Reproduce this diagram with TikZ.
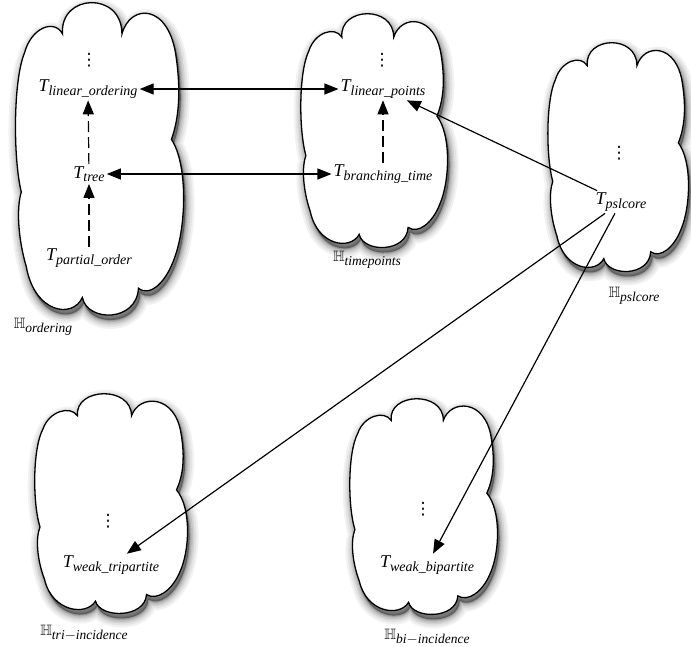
\documentclass[tikz,border=0pt]{standalone}
\usepackage{amssymb}
\usepackage{fontspec}
\setmainfont{Liberation Serif}
\newfontfamily\symbolfont{DejaVu Sans}
\usetikzlibrary{arrows.meta}

% outline of a cloud in the unit square (u to the right, v downwards):
% a tall bump on top between two shoulders, two bulges on each side,
% a low bump at the bottom
\newcommand\cloudoutline{%
  (0.27,0.10) .. controls (0.25,-0.03) and (0.63,-0.04) .. (0.63,0.10)
  .. controls (0.68,0.00) and (0.92,0.00) .. (0.96,0.18)
  .. controls (0.99,0.30) and (0.97,0.38) .. (0.93,0.44)
  .. controls (1.03,0.52) and (1.02,0.72) .. (0.95,0.82)
  .. controls (0.90,0.90) and (0.80,0.95) .. (0.73,0.92)
  .. controls (0.72,1.03) and (0.42,1.03) .. (0.39,0.95)
  .. controls (0.33,1.02) and (0.10,1.00) .. (0.05,0.85)
  .. controls (0.00,0.76) and (-0.01,0.66) .. (0.02,0.61)
  .. controls (-0.03,0.50) and (-0.03,0.25) .. (0.04,0.16)
  .. controls (0.08,0.08) and (0.22,0.05) .. (0.27,0.10) -- cycle}

% cloud with a soft drop shadow: left, top, width, height
\newcommand\cloudblob[4]{%
  \foreach \w/\o in {18/0.05,14/0.06,10/0.07,7/0.08,4/0.10,2/0.12}{%
    \begin{scope}[shift={(#1+2,#2+5)},xscale=#3,yscale=#4]
      \filldraw[black,opacity=\o,line width=\w pt,line join=round] \cloudoutline;
    \end{scope}}%
  \begin{scope}[shift={(#1,#2)},xscale=#3,yscale=#4]
    \filldraw[fill=white,draw=black,line width=1.3pt] \cloudoutline;
  \end{scope}}

% italic index set below the baseline
\newcommand\idx[2][14]{\raisebox{-3.5pt}{\fontsize{#1}{#1}\selectfont\itshape #2}}

\tikzset{
  theory/.style={inner sep=2pt,font=\fontsize{18}{20}\selectfont\itshape},
  family/.style={inner sep=1pt,font=\fontsize{15}{17}\selectfont},
  more/.style={inner sep=0pt,font=\fontsize{17}{20}\selectfont\symbolfont},
  link/.style={line width=1.2pt,-{Triangle[length=14pt,width=11pt]}},
  twoway/.style={line width=1.2pt,{Triangle[length=14pt,width=11pt]}-{Triangle[length=14pt,width=11pt]}},
  dashlink/.style={link,dash pattern=on 11pt off 5pt},
}

\begin{document}
\begin{tikzpicture}[x=1pt,y=-1pt]
\useasboundingbox (0,0) rectangle (691,646);

% theory families
\cloudblob{18}{3}{165}{310}
\cloudblob{303}{14}{144}{232}
\cloudblob{550}{43}{138}{227}
\cloudblob{37}{394}{150}{218}
\cloudblob{352}{399}{145}{214}

% ordering
\node[more] (dA) at (89,60) {⋮};
\node[theory] (lo) at (88,89) {T\idx{linear\_ordering}};
\node[theory] (tr) at (89,174) {T\idx{tree}};
\node[theory] (po) at (89,258) {T\idx{partial\_order}};
\node[family] (hA) at (43,327) {$\mathbb{H}$\idx[13.5]{ordering}};

% time points
\node[more] (dB) at (382,60) {⋮};
\node[theory] (lp) at (383,89) {T\idx{linear\_points}};
\node[theory] (bt) at (383,174) {T\idx{branching\_time}};
\node[family] (hB) at (367,260) {$\mathbb{H}$\idx[13.5]{timepoints}};

% psl core
\node[more] (dC) at (619,153) {⋮};
\node[theory] (ps) at (621,202) {T\idx{pslcore}};
\node[family] (hC) at (634,296) {$\mathbb{H}$\idx[13.5]{pslcore}};

% tri-incidence
\node[more] (dD) at (108,521) {⋮};
\node[theory] (wt) at (111,565) {T\idx{weak\_tripartite}};
\node[family] (hD) at (84,633) {$\mathbb{H}$\idx[13.5]{tri$-$incidence}};

% bi-incidence
\node[more] (dE) at (423,509) {⋮};
\node[theory] (wb) at (427,565) {T\idx{weak\_bipartite}};
\node[family] (hE) at (427,637) {$\mathbb{H}$\idx[13.5]{bi$-$incidence}};

% connectors
\draw[twoway] (lo) -- (lp);
\draw[twoway] (tr) -- (bt);
\draw[dashlink] (tr) -- (lo);
\draw[dashlink] (po) -- (tr);
\draw[dashlink] (bt) -- (lp);
\draw[link] (ps) -- (lp);
\draw[link] (ps) -- (wt);
\draw[link] (ps) -- (wb);
\end{tikzpicture}
\end{document}
